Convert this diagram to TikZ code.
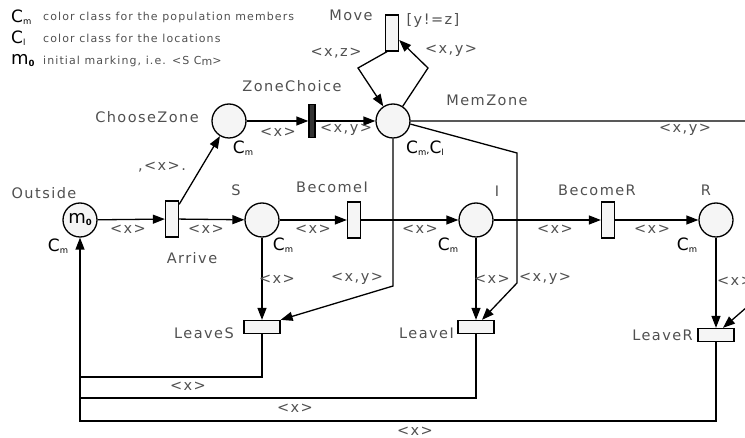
\documentclass[tikz,border=0pt]{standalone}
\usepackage{fontspec}
\setmainfont{DejaVu Sans}
\newfontfamily\lblfont[LetterSpace=10]{DejaVu Sans}
\usetikzlibrary{arrows.meta,calc}
\definecolor{lblgray}{HTML}{505050}
\definecolor{pfill}{HTML}{F5F5F5}
\definecolor{tdark}{HTML}{333333}
\newcommand{\CC}[1]{{\fontsize{17}{17}\selectfont C}\raisebox{-2.5pt}{\fontsize{8.5}{9}\selectfont #1}}
\newcommand{\MZ}{{\fontsize{18}{18}\selectfont m}\raisebox{-2pt}{\fontsize{8.5}{9}\selectfont\bfseries 0}}
\tikzset{
 place/.style={circle,draw,line width=1.3pt,fill=pfill,minimum size=34pt,inner sep=0pt},
 trans/.style={rectangle,draw,line width=1.3pt,fill=pfill,inner sep=0pt},
 vtrans/.style={trans,minimum width=13pt,minimum height=36pt},
 htrans/.style={trans,minimum width=36pt,minimum height=13pt},
 arc/.style={line width=1.3pt,-{Triangle[length=12pt,width=9pt]}},
 plain/.style={line width=1.3pt},
 lbl/.style={font=\lblfont\fontsize{14.5}{15}\selectfont,text=lblgray,inner sep=0pt},
 cls/.style={inner sep=0pt,text=black},
 leg/.style={font=\lblfont\fontsize{11}{12}\selectfont,text=lblgray,inner sep=0pt,anchor=west},
}
\begin{document}
\begin{tikzpicture}[x=1pt,y=-1pt]
\useasboundingbox (0,0) rectangle (745,438);
\clip (0,0) rectangle (745,438);
% legend
\node[cls,anchor=west] (lg1c) at (11,17) {\CC{m}};
\node[leg] (lg1) at (43,17) {color class for the population members};
\node[cls,anchor=west] (lg2c) at (11,38) {\CC{l}};
\node[leg] (lg2) at (43,38) {color class for the locations};
\node[cls,anchor=west] (lg3c) at (11,61) {\MZ};
\node[leg] (lg3) at (43,61) {initial marking, i.e. <S C\raisebox{-1.5pt}{m}>};
% places
\node[place] (out) at (80,220) {\MZ};
\node[place] (cz) at (229,121) {};
\node[place] (mz) at (393,121) {};
\node[place] (S) at (262,220) {};
\node[place] (I) at (476,220) {};
\node[place] (R) at (716,220) {};
% transitions
\node[vtrans] (move) at (392,33) {};
\node[trans,fill=tdark,minimum width=6pt,minimum height=33pt] (zc) at (312,121) {};
\node[vtrans] (arr) at (172,219) {};
\node[vtrans] (bi) at (354,220) {};
\node[vtrans] (br) at (608,220) {};
\node[htrans] (ls) at (262,327) {};
\node[htrans] (li) at (476,327) {};
\node[htrans] (lr) at (716,335) {};
% bend coordinates
\coordinate (ml) at (358,68);
\coordinate (mr) at (428,68);
\coordinate (e1) at (775,121);
\coordinate (e2) at (770,287);
\coordinate (d1) at (393,286);
\coordinate (f1) at (517,153);
\coordinate (f2) at (517,283);
\coordinate (g1) at (262,377);
\coordinate (g1l) at (80,377);
\coordinate (g2) at (476,398);
\coordinate (g2l) at (80,398);
\coordinate (g3) at (716,421);
\coordinate (g3l) at (80,421);
% arcs
\draw[arc] (out) -- (arr);
\draw[arc] (arr) -- (S);
\draw[arc] ($(arr.north east)+(0,4)$) -- (cz);
\draw[arc] (cz) -- (zc);
\draw[arc] (zc) -- (mz);
\draw[arc] ($(move.south)+(-5,0)$) -- (ml) -- (mz);
\draw[arc] (mz) -- (mr) -- ($(move.east)+(0,7)$);
\draw[arc] (mz.east) -- (e1) -- (e2) -- ($(lr.north)+(7,0)$);
\draw[arc] (mz.south) -- (d1) -- (ls.north east);
\draw[arc] (mz.-10) -- (f1) -- (f2) -- ($(li.north)+(6,0)$);
\draw[arc] (S) -- (bi);
\draw[arc] (bi) -- (I);
\draw[arc] (I) -- (br);
\draw[arc] (br) -- (R);
\draw[arc] (S) -- (ls);
\draw[arc] (I) -- (li);
\draw[arc] (R) -- (lr);
\draw[plain] (ls.south) -- (g1) -- (g1l);
\draw[plain] (li.south) -- (g2) -- (g2l);
\draw[arc] (lr.south) -- (g3) -- (g3l) -- (out.south);
% node labels
\node[lbl] (tOut) at (44,193) {Outside};
\node[cls] (cOut) at (58,246) {\CC{m}};
\node[lbl] (tArr) at (192,258) {Arrive};
\node[lbl] (tCZ) at (147,117) {ChooseZone};
\node[cls] (cCZ) at (243,148) {\CC{m}};
\node[lbl] (tZC) at (292,86) {ZoneChoice};
\node[lbl] (tMZ) at (487,100) {MemZone};
\node[cls] (cMZ) at (425,148) {\CC{m},\CC{l}};
\node[lbl] (tMove) at (351,15) {Move};
\node[lbl] (tGuard) at (433,21) {[y!=z]};
\node[lbl] (tS) at (236,190) {S};
\node[cls] (cS) at (283,245) {\CC{m}};
\node[lbl] (tBI) at (332,187) {BecomeI};
\node[lbl] (tI) at (497,191) {I};
\node[cls] (cI) at (448,245) {\CC{m}};
\node[lbl] (tBR) at (597,190) {BecomeR};
\node[lbl] (tR) at (706,190) {R};
\node[cls] (cR) at (687,245) {\CC{m}};
\node[lbl,anchor=east] (tLS) at (234,333) {LeaveS};
\node[lbl,anchor=east] (tLI) at (454,333) {LeaveI};
\node[lbl,anchor=east] (tLR) at (693,335) {LeaveR};
% arc labels
\node[lbl] (a1) at (128,229) {<x>};
\node[lbl] (a2) at (206,229) {<x>};
\node[lbl] (a3) at (162,167) {,<x>.};
\node[lbl] (a4) at (278,132) {<x>};
\node[lbl] (a5) at (346,130) {<x,y>};
\node[lbl] (a6) at (336,53) {<x,z>};
\node[lbl] (a7) at (451,51) {<x,y>};
\node[lbl] (a8) at (685,130) {<x,y>};
\node[lbl] (a9) at (313,229) {<x>};
\node[lbl] (a10) at (420,229) {<x>};
\node[lbl] (a11) at (555,229) {<x>};
\node[lbl] (a12) at (652,229) {<x>};
\node[lbl] (a13) at (277,279) {<x>};
\node[lbl] (a14) at (357,279) {<x,y>};
\node[lbl] (a15) at (492,279) {<x>};
\node[lbl] (a16) at (545,279) {<x,y>};
\node[lbl] (a17) at (735,281) {<x>};
\node[lbl] (a18) at (188,386) {<x>};
\node[lbl] (a19) at (295,408) {<x>};
\node[lbl] (a20) at (415,431) {<x>};
\end{tikzpicture}
\end{document}
